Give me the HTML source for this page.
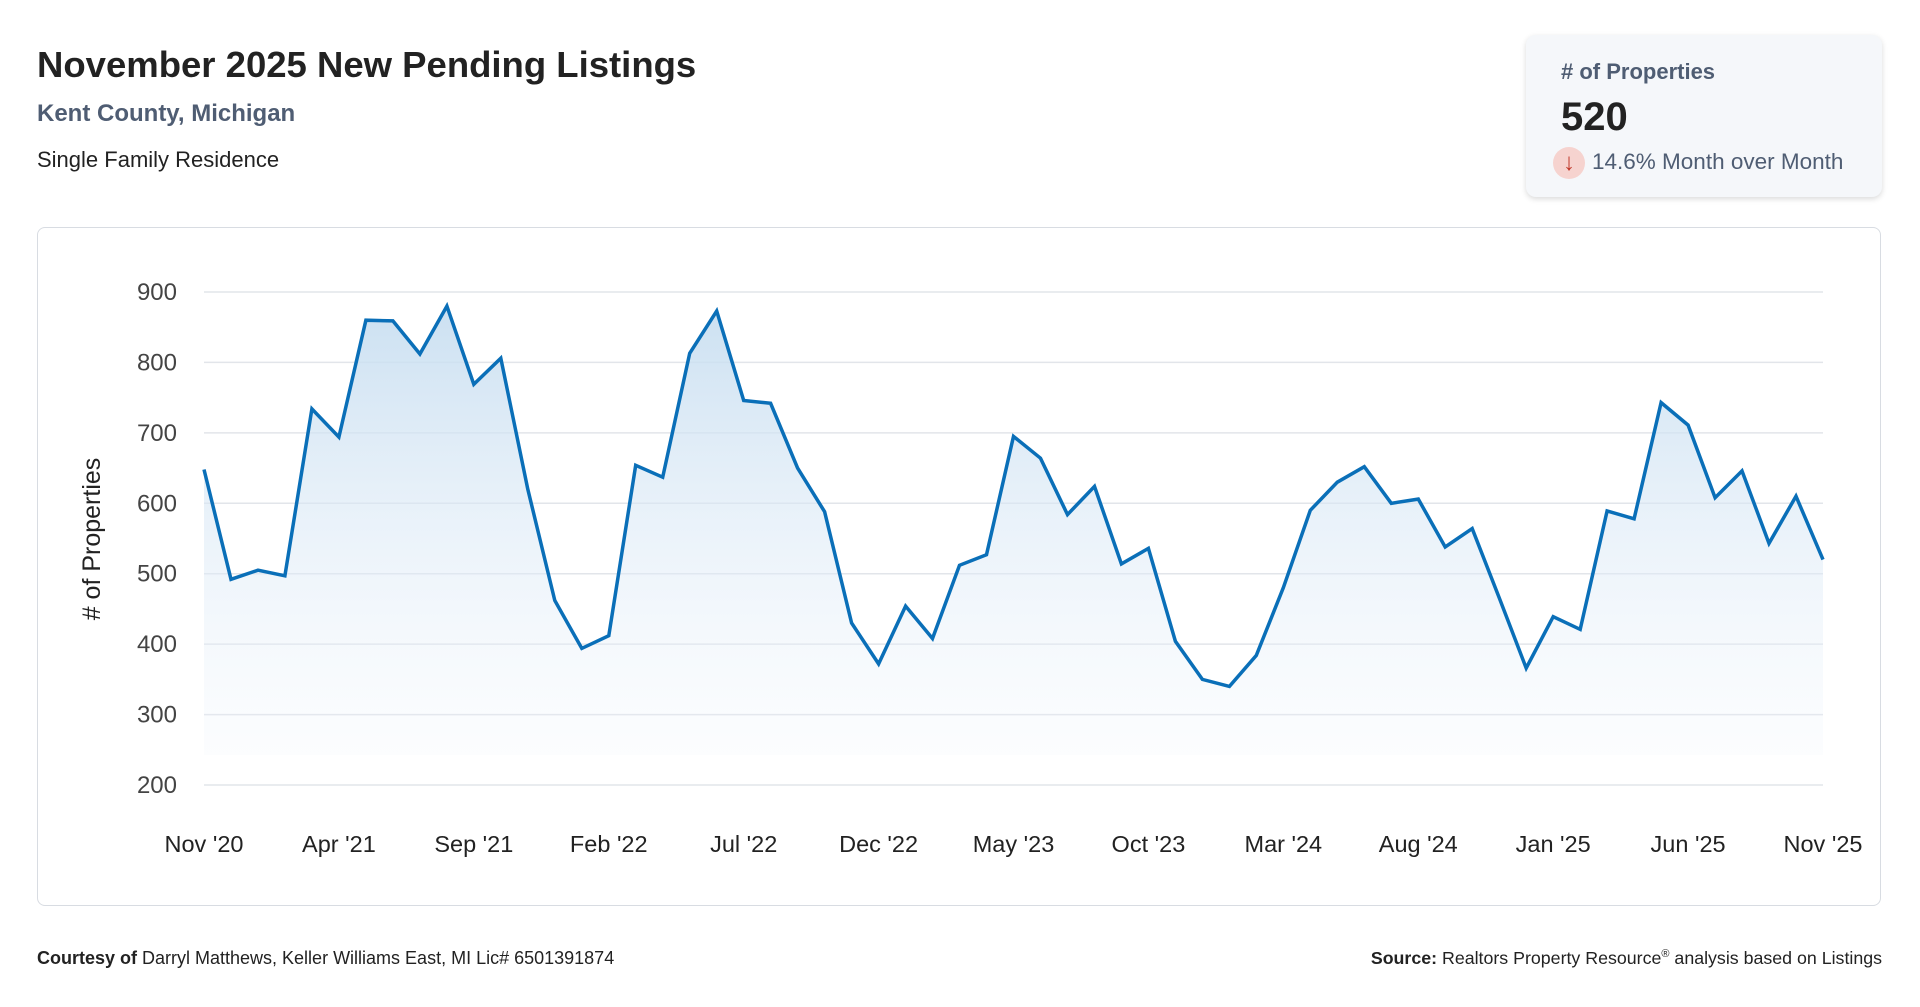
<!DOCTYPE html>
<html><head><meta charset="utf-8"><style>
body{margin:0;width:1920px;height:1007px;background:#fff;font-family:"Liberation Sans",sans-serif;position:relative;overflow:hidden}
.a{position:absolute;white-space:nowrap}
</style></head><body>
<div class="a" style="left:37px;top:44px;font-size:36.5px;font-weight:bold;color:#222">November 2025 New Pending Listings</div>
<div class="a" style="left:37px;top:100px;font-size:24px;font-weight:bold;color:#4f5d73">Kent County, Michigan</div>
<div class="a" style="left:37px;top:147px;font-size:22px;color:#222">Single Family Residence</div>
<div class="a" style="left:1526px;top:35px;width:356px;height:162px;background:#f5f7fa;border-radius:10px;box-shadow:0 2px 6px rgba(0,0,0,0.15)">
  <div class="a" style="left:35px;top:24px;font-size:22px;font-weight:bold;color:#4f5d73"># of Properties</div>
  <div class="a" style="left:35px;top:60px;font-size:40px;font-weight:bold;color:#222">520</div>
  <div class="a" style="left:27px;top:112px;width:32px;height:32px;border-radius:50%;background:#f6d3cf;color:#c0392b;font-size:24px;text-align:center;line-height:32px">↓</div>
  <div class="a" style="left:66px;top:114px;font-size:22.5px;color:#4f5d73">14.6% Month over Month</div>
</div>
<div class="a" style="left:37px;top:227px;width:1855px;height:679px;border:1px solid #d8dce2;border-radius:8px;box-sizing:border-box;width:1844px"></div>
<svg class="a" style="left:0;top:0" width="1920" height="1007" id="chart"></svg>
<div class="a" style="left:37px;top:948px;font-size:18px;color:#222"><b>Courtesy of</b> Darryl Matthews, Keller Williams East, MI Lic# 6501391874</div>
<div class="a" style="right:38px;top:948px;font-size:17.8px;color:#222"><b>Source:</b> Realtors Property Resource<sup style="font-size:11px">®</sup> analysis based on Listings</div>
<script>
const values=[648,492,505,497,734,694,860,859,812,880,769,806,620,462,394,412,654,637,813,873,746,742,650,588,430,372,454,408,512,527,695,664,584,624,514,536,404,350,340,384,480,590,630,652,600,606,538,564,466,366,439,421,589,578,743,711,608,646,543,610,520];
const yTicks=[200,300,400,500,600,700,800,900];
const xLabels=["Nov '20","Apr '21","Sep '21","Feb '22","Jul '22","Dec '22","May '23","Oct '23","Mar '24","Aug '24","Jan '25","Jun '25","Nov '25"];
const X0=204,X1=1823,Y900=292,Y200=785;
const sx=i=>X0+(X1-X0)*i/(values.length-1);
const sy=v=>Y200-(v-200)*(Y200-Y900)/700;
const ns="http://www.w3.org/2000/svg",svg=document.getElementById('chart');
function mk(t,a){const e=document.createElementNS(ns,t);for(const k in a)e.setAttribute(k,a[k]);svg.appendChild(e);return e;}
const defs=mk('defs',{});
defs.innerHTML='<linearGradient id="g" x1="0" y1="0" x2="0" y2="1"><stop offset="0" stop-color="#c6ddf0" stop-opacity="0.9"/><stop offset="1" stop-color="#eef4fb" stop-opacity="0.2"/></linearGradient>';
yTicks.forEach(t=>{
 const l=mk('line',{x1:X0,x2:X1,y1:sy(t),y2:sy(t),stroke:'#e2e5ea','stroke-width':1.5});
 
 
 const tx=mk('text',{x:177,y:sy(t)+8,'text-anchor':'end','font-size':24,fill:'#444','font-family':'Liberation Sans'});
 tx.textContent=t;
 
 
});
xLabels.forEach((s,k)=>{
 const tx=mk('text',{x:sx(k*5),y:852,'text-anchor':'middle','font-size':23.5,fill:'#222','font-family':'Liberation Sans'});
 tx.textContent=s;
 
 
});
const yt=mk('text',{x:0,y:0,transform:'translate(100,539) rotate(-90)','text-anchor':'middle','font-size':25,fill:'#222','font-family':'Liberation Sans'});
yt.textContent='# of Properties';


let d=values.map((v,i)=>(i?'L':'M')+sx(i).toFixed(1)+','+sy(v).toFixed(1)).join('');
const area=mk('path',{d:d+'L'+X1+','+(Y200-30)+'L'+X0+','+(Y200-30)+'Z',fill:'url(#g)'});


const line=mk('path',{d:d,fill:'none',stroke:'#0a6fb8','stroke-width':3.5,'stroke-linejoin':'miter'});


</script>
</body></html>
